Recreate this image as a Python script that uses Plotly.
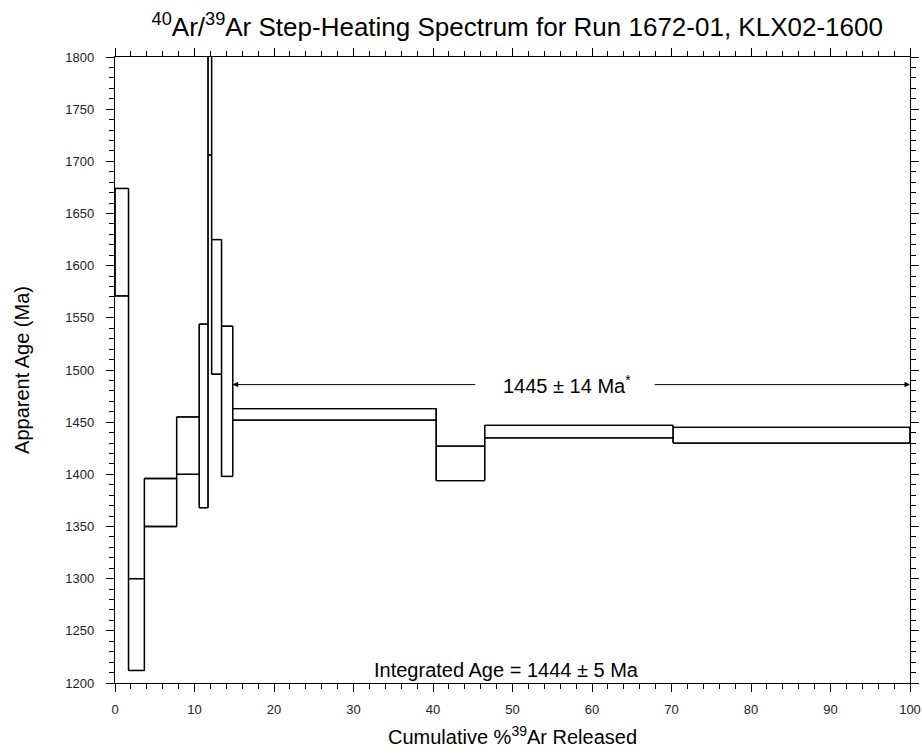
import plotly.graph_objects as go

# step boundaries (cumulative % 39Ar) and the 2-sigma age envelope of each step
step_edges = [0, 1.7, 3.7, 7.75, 10.6, 11.7, 12.15, 13.4, 14.8, 40.4, 46.5, 70.2, 100]
age_low = [1571, 1212, 1350, 1400, 1368, 1706, 1496, 1398, 1452, 1394, 1435, 1430]
age_high = [1674, 1300, 1396, 1455, 1544, 1900, 1625, 1542, 1463, 1427, 1447, 1445]

plateau_start = 14.8
plateau_end = 100
plateau_arrow_age = 1486
plateau_label = "1445 ± 14 Ma<sup>*</sup>"
plateau_label_x = 56.9
plateau_gap = [45.5, 67.7]
integrated_label = "Integrated Age = 1444 ± 5 Ma"

FONT = "Liberation Sans, Arial, sans-serif"

# horizontal tops and bottoms of each step
xs, ys = [], []
for i in range(len(age_low)):
    for level in (age_high[i], age_low[i]):
        xs += [step_edges[i], step_edges[i + 1], None]
        ys += [level, level, None]

# vertical joins at each boundary span both neighbouring steps
for j, edge in enumerate(step_edges):
    near = [k for k in (j - 1, j) if 0 <= k < len(age_low)]
    lo = min(age_low[k] for k in near)
    hi = max(age_high[k] for k in near)
    xs += [edge, edge, None]
    ys += [lo, hi, None]

fig = go.Figure()
fig.add_trace(go.Scatter(x=xs, y=ys, mode="lines",
                         line=dict(color="black", width=1.3),
                         hoverinfo="skip", showlegend=False))
# same outline again on the top/right frame axes so that subplot is drawn
fig.add_trace(go.Scatter(x=xs, y=ys, mode="lines", xaxis="x2", yaxis="y2",
                         line=dict(color="black", width=1.3),
                         hoverinfo="skip", showlegend=False))

frame = dict(
    showline=True, linecolor="black", linewidth=1.3,
    ticks="outside", ticklen=8, tickwidth=1.4, tickcolor="black",
    showgrid=False, zeroline=False,
    tickfont=dict(family=FONT, size=13, color="#222"),
)
x_ticks = dict(range=[0, 100], dtick=10,
               minor=dict(dtick=2, ticklen=5, tickwidth=1.3,
                          tickcolor="black", ticks="outside"))
y_ticks = dict(range=[1200, 1800], dtick=50,
               minor=dict(dtick=10, ticklen=5, tickwidth=1.3,
                          tickcolor="black", ticks="outside"))

fig.update_layout(
    xaxis=dict(side="bottom", ticklabelstandoff=6, automargin=False,
               title=dict(text="Cumulative %<sup>39</sup>Ar Released",
                          font=dict(family=FONT, size=20, color="black"), standoff=14),
               **x_ticks, **frame),
    yaxis=dict(side="left", ticklabelstandoff=9, automargin=False,
               title=dict(text="Apparent Age (Ma)",
                          font=dict(family=FONT, size=20, color="black"), standoff=30),
               **y_ticks, **frame),
    xaxis2=dict(overlaying="x", anchor="y", side="top", showticklabels=False,
                automargin=False, **x_ticks, **frame),
    yaxis2=dict(overlaying="y", anchor="x", side="right", showticklabels=False,
                automargin=False, **y_ticks, **frame),
)

# plateau arrows either side of the label
for head, tail in ((plateau_start, plateau_gap[0]), (plateau_end, plateau_gap[1])):
    fig.add_annotation(x=head, y=plateau_arrow_age, ax=tail, ay=plateau_arrow_age,
                       xref="x", yref="y", axref="x", ayref="y", text="",
                       showarrow=True, arrowhead=2, arrowsize=1.1, arrowwidth=1,
                       arrowcolor="black", standoff=0, startstandoff=0)
fig.add_annotation(x=plateau_label_x, y=plateau_arrow_age, xref="x", yref="y",
                   text=plateau_label, showarrow=False,
                   font=dict(family=FONT, size=20, color="black"))
fig.add_annotation(x=49.2, y=1212, xref="x", yref="y",
                   text=integrated_label, showarrow=False,
                   font=dict(family=FONT, size=20, color="black"))

fig.update_layout(
    width=922, height=756,
    margin=dict(l=115, r=12, t=57, b=73),
    paper_bgcolor="white", plot_bgcolor="white",
    title=dict(text="<sup>40</sup>Ar/<sup>39</sup>Ar Step-Heating Spectrum for Run 1672-01, KLX02-1600",
               x=0.561, xanchor="center", y=0.965, yanchor="middle",
               font=dict(family=FONT, size=26, color="black")),
)

fig.write_html("out.html", config={"displayModeBar": False},
               post_script="document.body.style.margin='0px';")
